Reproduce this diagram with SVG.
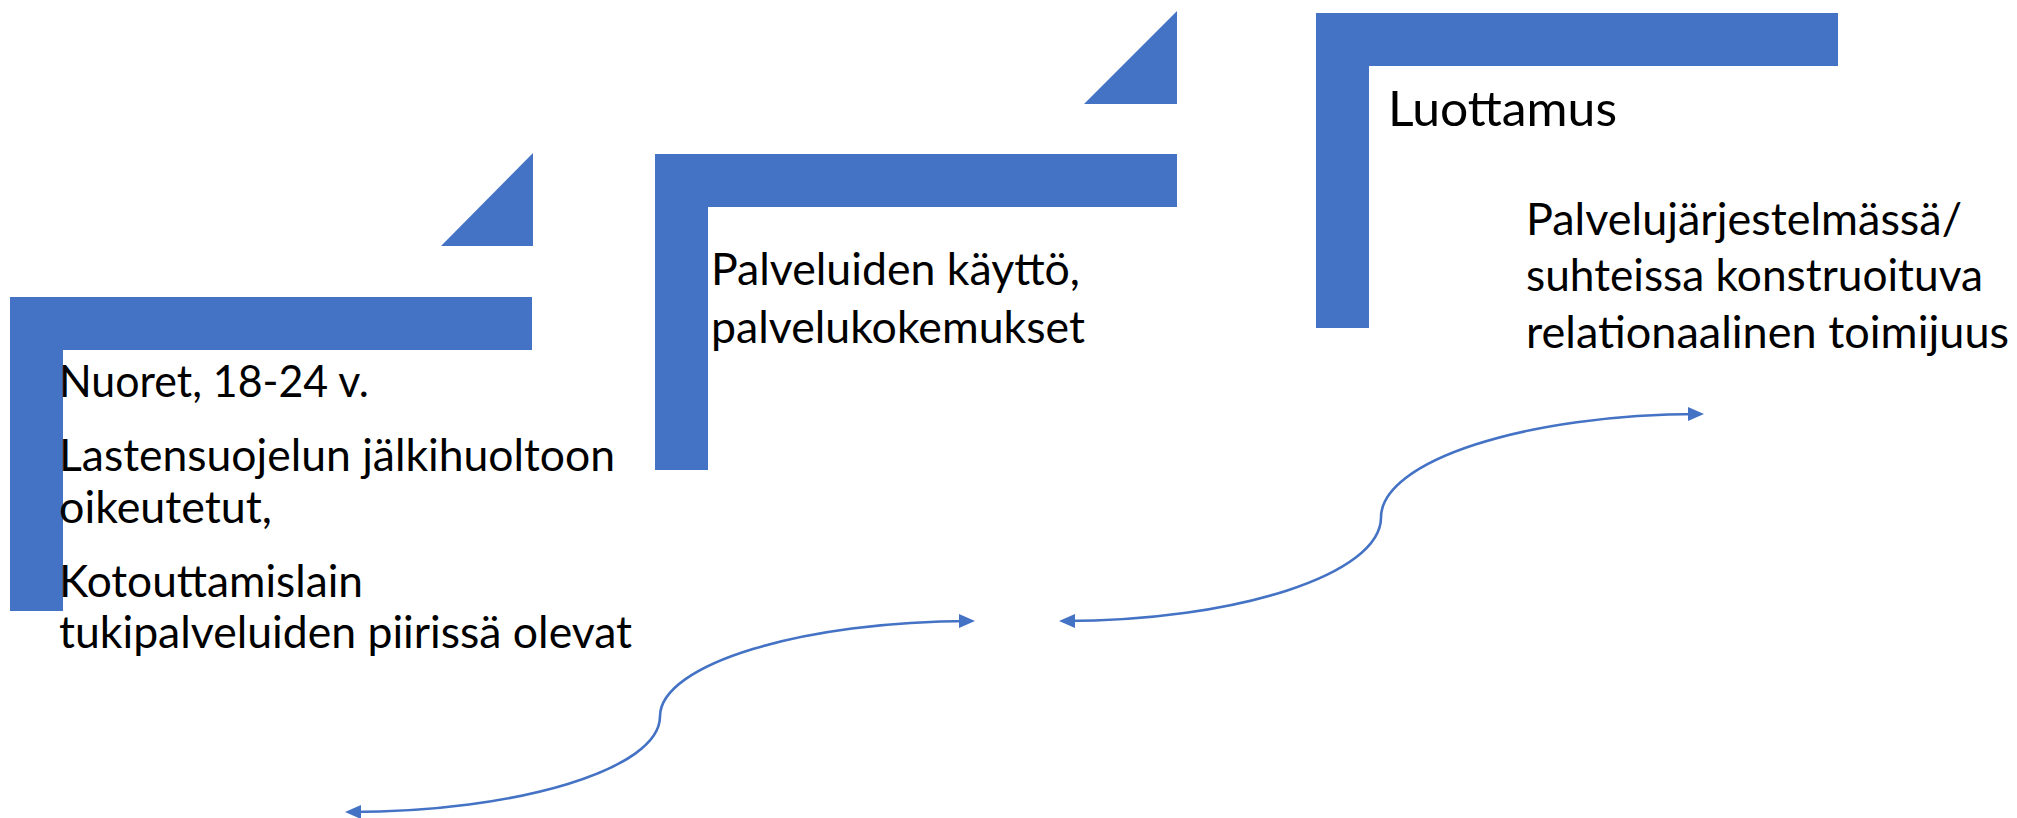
<svg xmlns="http://www.w3.org/2000/svg" width="2017" height="818" viewBox="0 0 2017 818">
  <style>
    .shape { fill: #4472C4; stroke: none; }
    .txt { font-family: Lato, "Open Sans", "Liberation Sans", sans-serif; font-size: 44px; fill: #000000; }
    .big { font-size: 49px; }
    .conn { fill: none; stroke: #4472C4; stroke-width: 2.6; }
  </style>
  <defs>
    <marker id="arrow" markerUnits="userSpaceOnUse" viewBox="0 0 16 14" markerWidth="16" markerHeight="14" refX="12" refY="7" orient="auto-start-reverse">
      <path d="M0,0 L16,7 L0,14 z" fill="#4472C4"/>
    </marker>
  </defs>
  <rect x="0" y="0" width="2017" height="818" fill="#ffffff"/>

  <g id="tri-1">
    <polygon class="shape" points="441,246 533,246 533,153"/>
  </g>
  <g id="tri-2">
    <polygon class="shape" points="1084,104 1177,104 1177,11"/>
  </g>

  <g id="node-nuoret">
    <polygon class="shape" points="10,297 532,297 532,350 63,350 63,611 10,611"/>
    <text class="txt" x="59" y="397" textLength="310" lengthAdjust="spacingAndGlyphs">Nuoret, 18-24 v.</text>
    <text class="txt" x="59" y="471" textLength="556" lengthAdjust="spacingAndGlyphs">Lastensuojelun jälkihuoltoon</text>
    <text class="txt" x="59" y="523" textLength="213" lengthAdjust="spacingAndGlyphs">oikeutetut,</text>
    <text class="txt" x="59" y="597" textLength="304" lengthAdjust="spacingAndGlyphs">Kotouttamislain</text>
    <text class="txt" x="59" y="648" textLength="573" lengthAdjust="spacingAndGlyphs">tukipalveluiden piirissä olevat</text>
  </g>

  <g id="node-palvelut">
    <polygon class="shape" points="655,154 1177,154 1177,207 708,207 708,470 655,470"/>
    <text class="txt" x="711" y="285" textLength="369" lengthAdjust="spacingAndGlyphs">Palveluiden käyttö,</text>
    <text class="txt" x="711" y="343" textLength="374" lengthAdjust="spacingAndGlyphs">palvelukokemukset</text>
  </g>

  <g id="node-luottamus">
    <polygon class="shape" points="1316,13 1838,13 1838,66 1369,66 1369,328 1316,328"/>
    <text class="txt big" x="1388" y="126" textLength="229" lengthAdjust="spacingAndGlyphs">Luottamus</text>
  </g>

  <g id="node-toimijuus">
    <text class="txt" x="1526" y="235" textLength="436" lengthAdjust="spacingAndGlyphs">Palvelujärjestelmässä/</text>
    <text class="txt" x="1526" y="291" textLength="457" lengthAdjust="spacingAndGlyphs">suhteissa konstruoituva</text>
    <text class="txt" x="1526" y="348" textLength="483" lengthAdjust="spacingAndGlyphs">relationaalinen toimijuus</text>
  </g>

  <g id="connectors">
    <path class="conn" d="M349,812 C518,812 660,769 660,716.5 C660,664 804,621 971,621" marker-start="url(#arrow)" marker-end="url(#arrow)"/>
    <path class="conn" d="M1063,621 C1237,621 1381,574 1381,517.5 C1381,461 1526,414 1700,414" marker-start="url(#arrow)" marker-end="url(#arrow)"/>
  </g>
</svg>
